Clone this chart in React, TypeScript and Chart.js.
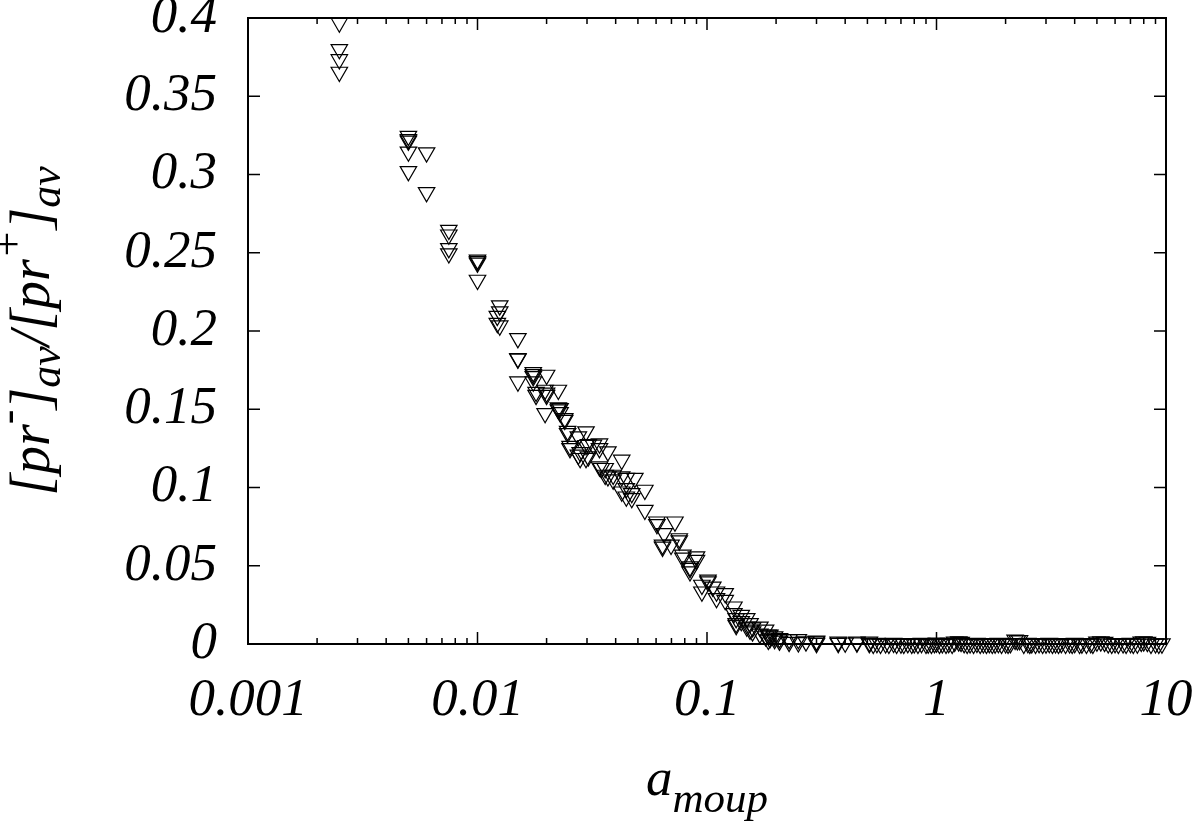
import React, { useEffect, useRef } from 'react';
import { Chart, registerables } from 'chart.js';

Chart.register(...registerables);

// ---- data ----
const amoup: number[] = [
  0.0025, 0.0025, 0.0025, 0.0025,
  0.005, 0.005, 0.005, 0.005, 0.005,
  0.006, 0.006,
  0.0075, 0.0075, 0.0075, 0.0075,
  0.01, 0.01, 0.01, 0.01,
  0.0125, 0.0125, 0.0125, 0.0122, 0.0122,
  0.015, 0.015, 0.015, 0.015,
  0.0175, 0.0175, 0.0175, 0.0175,
  0.018, 0.018,
  0.0197, 0.0197,
  0.02, 0.02, 0.02,
  0.0225, 0.0225, 0.0225,
  0.0229, 0.0229,
  0.024, 0.024,
  0.0247, 0.0247,
  0.0253, 0.0253,
  0.0275, 0.0275,
  0.028, 0.028,
  0.0297, 0.0297, 0.0297,
  0.0304, 0.0304,
  0.032,
  0.034, 0.034, 0.034,
  0.0346,
  0.036, 0.036,
  0.037, 0.037,
  0.039, 0.039,
  0.0425, 0.0425, 0.0425,
  0.0445, 0.0445, 0.0445,
  0.047, 0.047,
  0.0485,
  0.0536, 0.0536,
  0.0605, 0.0605,
  0.065,
  0.064, 0.064,
  0.0697,
  0.0725,
  0.0757, 0.0757,
  0.0785, 0.0785,
  0.0843, 0.0843, 0.0843,
  0.09, 0.09,
  0.095, 0.095,
  0.101, 0.101,
  0.106,
  0.11, 0.11,
  0.12, 0.12,
  0.131, 0.131,
  0.134, 0.134, 0.134,
  0.141, 0.141,
  0.149, 0.149,
  0.154, 0.154,
  0.158, 0.158,
  0.17, 0.17,
  0.18, 0.18,
  0.185, 0.185,
  0.188, 0.188,
  0.197, 0.197,
  0.207, 0.207,
  0.228, 0.228,
  0.25, 0.25,
  0.27,
  0.3, 0.3, 0.3,
  0.373, 0.373,
  0.4,
  0.45, 0.45,
  0.51, 0.51,
  0.53, 0.55, 0.57, 0.6, 0.62, 0.65, 0.67, 0.7, 0.72, 0.75, 0.78, 0.8, 0.83, 0.86,
  0.9, 0.92, 0.95, 0.98, 1.0, 1.03, 1.06, 1.1, 1.13, 1.17, 1.2, 1.25, 1.28, 1.32,
  1.36, 1.4, 1.45, 1.5, 1.55, 1.6, 1.65, 1.7, 1.75, 1.8, 1.86, 1.92, 2.0, 2.05,
  2.1, 2.2, 2.25, 2.3, 2.4, 2.5, 2.55, 2.6, 2.7, 2.8, 2.9, 3.0, 3.1, 3.2, 3.3,
  3.4, 3.5, 3.65, 3.8, 3.9, 4.0, 4.2, 4.3, 4.5, 4.7, 4.8, 5.0, 5.2, 5.4, 5.6,
  5.8, 6.0, 6.2, 6.5, 6.7, 7.0, 7.2, 7.5, 7.8, 8.0, 8.3, 8.6, 9.0, 9.3, 9.6, 10.0,
];

const ratio: number[] = [
  0.397, 0.38, 0.3735, 0.3655,
  0.3245, 0.3225, 0.3215, 0.3145, 0.302,
  0.314, 0.2886,
  0.2645, 0.2615, 0.2528, 0.2495,
  0.2455, 0.2445, 0.2435, 0.2326,
  0.2162, 0.2124, 0.2034, 0.2095, 0.205,
  0.1953, 0.1826, 0.1822, 0.1676,
  0.1736, 0.1723, 0.171, 0.1676,
  0.159, 0.161,
  0.1623, 0.1474,
  0.1719, 0.159, 0.1605,
  0.1623, 0.151, 0.1498,
  0.1506, 0.148,
  0.1431, 0.1442,
  0.1346, 0.136,
  0.125, 0.1265,
  0.1325, 0.1208,
  0.1187, 0.1225,
  0.1357, 0.127, 0.1187,
  0.1197, 0.1275,
  0.1272,
  0.125, 0.128, 0.1133,
  0.1123,
  0.1123, 0.108,
  0.1229, 0.107,
  0.108, 0.105,
  0.1176, 0.107, 0.0973,
  0.106, 0.0995, 0.0941,
  0.0931, 0.0963,
  0.106,
  0.0984, 0.0856,
  0.0781, 0.0765,
  0.0707,
  0.0633, 0.062,
  0.0633,
  0.0781,
  0.0674, 0.066,
  0.0569, 0.055,
  0.0494, 0.0484, 0.0463,
  0.0558, 0.0536,
  0.0377, 0.0334,
  0.041, 0.0398,
  0.0365,
  0.0292, 0.0334,
  0.0324, 0.028,
  0.0238, 0.0196,
  0.0164, 0.0132, 0.012,
  0.0185, 0.0145,
  0.0164, 0.011,
  0.0132, 0.009,
  0.0079, 0.0105,
  0.011, 0.0065,
  0.009, 0.0048,
  0.0026, 0.0058,
  0.0058, 0.0035,
  0.0047, 0.003,
  0.0036, 0.002,
  0.003, 0.0012,
  0.003, 0.001,
  0.0015,
  0.002, 0.0015, 0.0005,
  0.0013, 0.0005,
  0.0008,
  0.0013, 0.0008,
  0.0013, 0.0004,
  0.0, 0.0005, 0.0, 0.0003, 0.0, 0.0006, 0.0, 0.0002, 0.0, 0.0004, 0.0, 0.0003, 0.0, 0.0005,
  0.0, 0.0002, 0.0, 0.0004, 0.0008, 0.0, 0.0003, 0.0, 0.0005, 0.0, 0.0013, 0.0015, 0.0012, 0.0004,
  0.0, 0.0003, 0.0, 0.0006, 0.0, 0.0003, 0.0, 0.0004, 0.0, 0.0002, 0.0005, 0.0, 0.0003, 0.0,
  0.0004, 0.0026, 0.0022, 0.0024, 0.0, 0.0005, 0.0, 0.0003, 0.0, 0.0004, 0.0, 0.0002, 0.0005, 0.0, 0.0003,
  0.0, 0.0004, 0.0, 0.0003, 0.0, 0.0005, 0.0, 0.0002, 0.0, 0.0004, 0.0, 0.0014, 0.0015, 0.0012,
  0.0003, 0.0, 0.0004, 0.0, 0.0003, 0.0, 0.0005, 0.0, 0.0002, 0.0013, 0.0015, 0.0012, 0.0, 0.0003, 0.0, 0.0002,
];

const xTicks: number[] = [0.001, 0.01, 0.1, 1, 10];
const xTickLabels: string[] = ['0.001', '0.01', '0.1', '1', '10'];
const yTicks: number[] = [0, 0.05, 0.1, 0.15, 0.2, 0.25, 0.3, 0.35, 0.4];
const yTickLabels: string[] = ['0', '0.05', '0.1', '0.15', '0.2', '0.25', '0.3', '0.35', '0.4'];
const minorMultipliers: number[] = [2, 3, 4, 5, 6, 7, 8, 9];

const SERIF = '"Liberation Serif", "DejaVu Serif", serif';

const framePlugin = {
  id: 'gnuplotFrame',
  beforeDatasetsDraw(chart: any) {
    const { ctx, chartArea } = chart;
    const xs = chart.scales.x;
    const ys = chart.scales.y;
    const { left, right, top, bottom } = chartArea;
    ctx.save();
    ctx.strokeStyle = '#000';
    ctx.lineWidth = 2;
    ctx.strokeRect(left, top, right - left, bottom - top);
    ctx.lineWidth = 1.5;
    ctx.beginPath();
    const major = 12;
    const minor = 6;
    xTicks.forEach((v) => {
      const px = xs.getPixelForValue(v);
      ctx.moveTo(px, bottom); ctx.lineTo(px, bottom - major);
      ctx.moveTo(px, top); ctx.lineTo(px, top + major);
      if (v < xTicks[xTicks.length - 1]) {
        minorMultipliers.forEach((m) => {
          const mp = xs.getPixelForValue(v * m);
          ctx.moveTo(mp, bottom); ctx.lineTo(mp, bottom - minor);
          ctx.moveTo(mp, top); ctx.lineTo(mp, top + minor);
        });
      }
    });
    yTicks.forEach((v) => {
      const py = ys.getPixelForValue(v);
      ctx.moveTo(left, py); ctx.lineTo(left + major, py);
      ctx.moveTo(right, py); ctx.lineTo(right - major, py);
    });
    ctx.stroke();
    ctx.restore();
  },
  afterDraw(chart: any) {
    const { ctx, chartArea } = chart;
    ctx.save();
    ctx.fillStyle = '#000';
    ctx.textBaseline = 'alphabetic';
    ctx.textAlign = 'left';
    const mainFont = `italic 53px ${SERIF}`;
    const xSubFont = `italic 43px ${SERIF}`;

    // x title: a_{moup}
    ctx.font = mainFont;
    const wa = ctx.measureText('a').width;
    ctx.font = xSubFont;
    const wm = ctx.measureText('moup').width;
    const cx = (chartArea.left + chartArea.right) / 2;
    const sx = cx - (wa + wm) / 2;
    ctx.font = mainFont;
    ctx.fillText('a', sx, 795);
    ctx.font = xSubFont;
    ctx.fillText('moup', sx + wa, 812);

    // y title: [pr^-]_{av}/[pr^+]_{av}
    const yMain = `italic 56px ${SERIF}`;
    const ySmall = `italic 44px ${SERIF}`;
    const segs: { t: string; k: 'm' | 'sup' | 'sub' }[] = [
      { t: '[pr', k: 'm' },
      { t: '-', k: 'sup' },
      { t: ']', k: 'm' },
      { t: 'av', k: 'sub' },
      { t: '/[pr', k: 'm' },
      { t: '+', k: 'sup' },
      { t: ']', k: 'm' },
      { t: 'av', k: 'sub' },
    ];
    let total = 0;
    const widths = segs.map((s) => {
      ctx.font = s.k === 'm' ? yMain : ySmall;
      const w = ctx.measureText(s.t).width;
      total += w;
      return w;
    });
    const cy = (chartArea.top + chartArea.bottom) / 2;
    ctx.translate(49, cy);
    ctx.rotate(-Math.PI / 2);
    let pos = -total / 2;
    segs.forEach((s, i) => {
      ctx.font = s.k === 'm' ? yMain : ySmall;
      const dy = s.k === 'sup' ? -27 : s.k === 'sub' ? 11 : 0;
      ctx.fillText(s.t, pos, dy);
      pos += widths[i];
    });
    ctx.restore();
  },
};

export default function App() {
  const ref = useRef<HTMLCanvasElement | null>(null);
  useEffect(() => {
    if (!ref.current) return;
    const points = amoup.map((x, i) => ({ x, y: ratio[i] }));
    const tickFont = { family: SERIF, style: 'italic' as const, size: 53 };
    const chart = new Chart(ref.current, {
      type: 'scatter',
      data: {
        datasets: [
          {
            data: points,
            pointStyle: 'triangle',
            rotation: 180,
            pointRadius: 9.5,
            pointHoverRadius: 9.5,
            borderColor: '#000',
            backgroundColor: 'rgba(0,0,0,0)',
            borderWidth: 1.2,
            clip: false as any,
          } as any,
        ],
      },
      options: {
        animation: false,
        responsive: false,
        devicePixelRatio: 1,
        layout: { padding: { top: 18, right: 34, left: 0, bottom: 0 } },
        plugins: {
          legend: { display: false },
          tooltip: { enabled: false },
        },
        events: [],
        scales: {
          x: {
            type: 'logarithmic',
            min: 0.001,
            max: 10,
            grid: { display: false, drawTicks: false },
            border: { display: false },
            afterBuildTicks: (s: any) => {
              s.ticks = xTicks.map((v) => ({ value: v }));
            },
            afterFit: (s: any) => {
              s.height = 177;
              s.paddingLeft = 0;
              s.paddingRight = 0;
            },
            ticks: {
              font: tickFont,
              color: '#000',
              padding: 25,
              maxRotation: 0,
              autoSkip: false,
              callback: (_v: any, i: number) => xTickLabels[i],
            },
          } as any,
          y: {
            type: 'linear',
            min: 0,
            max: 0.4,
            grid: { display: false, drawTicks: false },
            border: { display: false },
            afterBuildTicks: (s: any) => {
              s.ticks = yTicks.map((v) => ({ value: v }));
            },
            afterFit: (s: any) => {
              s.width = 248;
              s.paddingTop = 0;
              s.paddingBottom = 0;
            },
            ticks: {
              font: tickFont,
              color: '#000',
              padding: 31,
              autoSkip: false,
              callback: (_v: any, i: number) => yTickLabels[i],
            },
          } as any,
        },
      },
      plugins: [framePlugin],
    });
    return () => chart.destroy();
  }, []);
  return (
    <div style={{ position: 'absolute', left: 0, top: 0, width: 1200, height: 821, background: '#fff' }}>
      <canvas ref={ref} width={1200} height={821} style={{ width: 1200, height: 821, display: 'block' }} />
    </div>
  );
}
